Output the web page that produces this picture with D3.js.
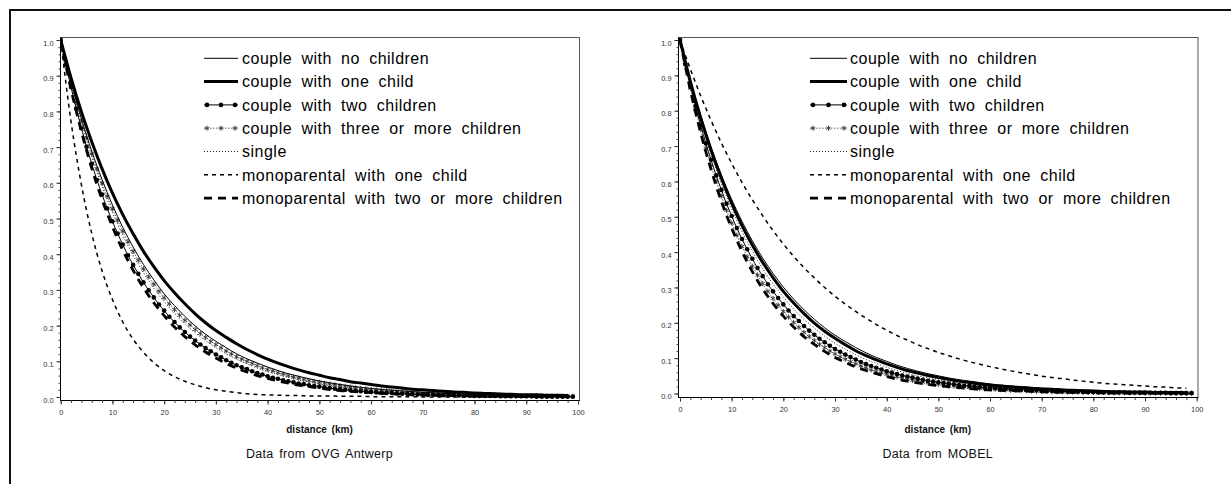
<!DOCTYPE html>
<html><head><meta charset="utf-8">
<script src="https://cdn.jsdelivr.net/npm/d3@7"></script>
<style>
html,body{margin:0;padding:0;background:#fff;}
svg{display:block;font-family:"Liberation Sans",Arial,Helvetica,sans-serif;}
</style></head><body>
<svg id="chart" width="1231" height="484"></svg>
<script>
// ---------- categories / ticks ----------
const distanceKm = [0,1,2,3,4,5,6,7,8,9,10,11,12,13,14,15,16,17,18,19,20,21,22,23,24,25,26,27,28,29,30,31,32,33,34,35,36,37,38,39,40,41,42,43,44,45,46,47,48,49,50,51,52,53,54,55,56,57,58,59,60,61,62,63,64,65,66,67,68,69,70,71,72,73,74,75,76,77,78,79,80,81,82,83,84,85,86,87,88,89,90,91,92,93,94,95,96,97,98,99];
const distanceKmEven = [0,2,4,6,8,10,12,14,16,18,20,22,24,26,28,30,32,34,36,38,40,42,44,46,48,50,52,54,56,58,60,62,64,66,68,70,72,74,76,78,80,82,84,86,88,90,92,94,96,98];
const seriesNames = ["couple with no children","couple with one child","couple with two children","couple with three or more children","single","monoparental with one child","monoparental with two or more children"];
const yTickValues = [0,0.1,0.2,0.3,0.4,0.5,0.6,0.7,0.8,0.9,1.0];
const yTickLabels = ["0.0","0.1","0.2","0.3","0.4","0.5","0.6","0.7","0.8","0.9","1.0"];
const xTickValues = [0,10,20,30,40,50,60,70,80,90,100];
const xTickLabels = ["0","10","20","30","40","50","60","70","80","90","100"];
const panelTitles = ["Data from OVG Antwerp","Data from MOBEL"];
const xAxisTitle = "distance (km)";

// ---------- OVG Antwerp ----------
const ovgNoChildren = [1,.883,.780,.689,.609,.538,.475,.420,.371,.328,.289,.256,.226,.199,.176,.156,.138,.121,.107,.095,.084,.074,.065,.058,.051,.045,.040,.035,.031,.027,.024,.021,.019,.017,.015,.013,.012,.010,.009,.008,.007,.006,.005,.005,.004,.004,.003,.003,.003,.002];
const ovgOneChild = [1,.894,.799,.715,.639,.571,.511,.457,.408,.365,.326,.292,.261,.233,.208,.186,.167,.149,.133,.119,.106,.095,.085,.076,.068,.061,.054,.049,.043,.039,.035,.031,.028,.025,.022,.020,.018,.016,.014,.013,.011,.010,.009,.008,.007,.006,.006,.005,.005,.004];
const ovgTwoChildren = [1,.931,.868,.808,.753,.701,.653,.608,.567,.528,
 .492,.458,.427,.397,.370,.345,.321,.299,.279,.259,
 .242,.225,.210,.195,.182,.169,.158,.147,.137,.128,
 .119,.111,.103,.096,.089,.083,.078,.072,.067,.063,
 .058,.054,.051,.047,.044,.041,.038,.036,.033,.031,
 .029,.027,.025,.023,.022,.020,.019,.017,.016,.015,
 .014,.013,.012,.011,.011,.010,.009,.009,.008,.007,
 .007,.006,.006,.006,.005,.005,.005,.004,.004,.004,
 .003,.003,.003,.003,.003,.002,.002,.002,.002,.002,
 .002,.002,.001,.001,.001,.001,.001,.001,.001,.001];
const ovgThreeChildren = [1,.938,.880,.825,.774,.726,.681,.639,.599,.562,
 .527,.495,.464,.435,.408,.383,.359,.337,.316,.296,
 .278,.261,.245,.229,.215,.202,.189,.178,.167,.156,
 .147,.138,.129,.121,.113,.106,.100,.094,.088,.082,
 .077,.073,.068,.064,.060,.056,.053,.049,.046,.043,
 .041,.038,.036,.034,.032,.030,.028,.026,.024,.023,
 .021,.020,.019,.018,.017,.016,.015,.014,.013,.012,
 .011,.011,.010,.009,.009,.008,.008,.007,.007,.006,
 .006,.006,.005,.005,.005,.004,.004,.004,.004,.003,
 .003,.003,.003,.003,.002,.002,.002,.002,.002,.002];
const ovgSingle = [1,.876,.768,.673,.590,.517,.453,.397,.348,.305,.267,.234,.205,.180,.158,.138,.121,.106,.093,.081,.071,.063,.055,.048,.042,.037,.032,.028,.025,.022,.019,.017,.015,.013,.011,.010,.009,.008,.007,.006,.005,.004,.004,.003,.003,.003,.002,.002,.002,.002];
const ovgMonoOne = [1,.771,.595,.458,.353,.273,.210,.162,.125,.096,.074,.057,.044,.034,.026,.020,.016,.012,.009,.007,.006,.005,.004,.004,.003,.003,.003,.002,.002,.002,.001,.001,.001,.001,.001,0,0,0,0,0,0,0,0,0,0,0,0,0,0,0];
const ovgMonoTwo = [1,.862,.744,.641,.553,.477,.411,.355,.306,.264,.228,.196,.169,.146,.126,.109,.094,.081,.070,.060,.052,.045,.039,.033,.029,.025,.021,.018,.016,.014,.012,.010,.009,.008,.007,.006,.005,.004,.004,.003,.003,.002,.002,.002,.001,.001,.001,.001,.001,.001];

// ---------- MOBEL ----------
const mobelNoChildren = [1,.887,.787,.698,.619,.549,.487,.432,.383,.340,.301,.267,.237,.210,.186,.165,.147,.130,.115,.102,.091,.080,.071,.063,.056,.050,.044,.039,.035,.031,.027,.024,.021,.019,.017,.015,.013,.012,.010,.009,.008,.007,.006,.006,.005,.005,.004,.004,.003,.003];
const mobelOneChild = [1,.883,.780,.689,.609,.538,.475,.420,.371,.328,.289,.256,.226,.199,.176,.156,.138,.121,.107,.095,.084,.074,.065,.058,.051,.045,.040,.035,.031,.027,.024,.021,.019,.017,.015,.013,.012,.010,.009,.008,.007,.006,.005,.005,.004,.004,.003,.003,.003,.002];
const mobelTwoChildren = [1,.933,.871,.813,.759,.708,.661,.617,.576,.537,
 .502,.468,.437,.408,.381,.355,.332,.309,.289,.270,
 .252,.235,.219,.205,.191,.178,.166,.155,.145,.135,
 .126,.118,.110,.103,.096,.089,.083,.078,.073,.068,
 .063,.059,.055,.051,.048,.045,.042,.039,.036,.034,
 .032,.030,.028,.026,.024,.022,.021,.020,.018,.017,
 .016,.015,.014,.013,.012,.011,.011,.010,.009,.009,
 .008,.007,.007,.006,.006,.006,.005,.005,.005,.004,
 .004,.004,.003,.003,.003,.003,.003,.002,.002,.002,
 .002,.002,.002,.002,.002,.001,.001,.001,.001,.001];
const mobelThreeChildren = [1,.930,.864,.803,.747,.694,.645,.600,.558,.518,
 .482,.448,.416,.387,.360,.335,.311,.289,.269,.250,
 .232,.216,.201,.187,.173,.161,.150,.139,.130,.120,
 .112,.104,.097,.090,.084,.078,.072,.067,.062,.058,
 .054,.050,.047,.043,.040,.037,.035,.032,.030,.028,
 .026,.024,.022,.021,.019,.018,.017,.016,.014,.013,
 .013,.012,.011,.010,.009,.009,.008,.008,.007,.006,
 .006,.006,.005,.005,.005,.004,.004,.004,.003,.003,
 .003,.003,.003,.002,.002,.002,.002,.002,.002,.002,
 .001,.001,.001,.001,.001,.001,.001,.001,.001,.001];
const mobelSingle = [1,.878,.771,.677,.595,.522,.458,.403,.353,.310,.273,.239,.210,.185,.162,.142,.125,.110,.096,.085,.074,.065,.057,.050,.044,.039,.034,.030,.026,.023,.020,.018,.016,.014,.012,.011,.009,.008,.007,.006,.006,.005,.004,.004,.003,.003,.003,.002,.002,.002];
const mobelMonoOne = [1,.918,.842,.773,.709,.651,.597,.548,.503,.461,.423,.388,.356,.327,.300,.275,.253,.232,.213,.195,.179,.164,.151,.138,.127,.116,.107,.098,.090,.083,.076,.070,.064,.059,.054,.049,.045,.042,.038,.035,.032,.029,.027,.025,.023,.021,.019,.018,.016,.015];
const mobelMonoTwo = [1,.859,.738,.634,.544,.468,.402,.345,.296,.255,.219,.188,.161,.139,.119,.102,.088,.075,.065,.056,.048,.041,.035,.030,.026,.022,.019,.017,.014,.012,.010,.009,.008,.007,.006,.005,.004,.004,.003,.003,.002,.002,.002,.001,.001,.001,.001,.001,.001,.001];

// ---------- styling ----------
const seriesX = [distanceKmEven, distanceKmEven, distanceKm, distanceKm, distanceKmEven, distanceKmEven, distanceKmEven];
const seriesStyle = [
  {stroke:"#000", width:1, dash:null, marker:null},
  {stroke:"#000", width:3, dash:null, marker:null},
  {stroke:"#000", width:1, dash:null, marker:"dot"},
  {stroke:"#666", width:1, dash:"1.5,1.5", marker:"star"},
  {stroke:"#222", width:1, dash:"1,2", marker:null},
  {stroke:"#000", width:1.5, dash:"4,4", marker:null},
  {stroke:"#000", width:2.8, dash:"8,6", marker:null}
];

const panels = [
  {title: panelTitles[0],
   values:[ovgNoChildren, ovgOneChild, ovgTwoChildren, ovgThreeChildren, ovgSingle, ovgMonoOne, ovgMonoTwo],
   fx0:60, fx1:579, fy0:37, fy1:400, xr:[60.7,578], yr:[397,40],
   legLine:[204,238], legText:242},
  {title: panelTitles[1],
   values:[mobelNoChildren, mobelOneChild, mobelTwoChildren, mobelThreeChildren, mobelSingle, mobelMonoOne, mobelMonoTwo],
   fx0:678, fx1:1197.5, fy0:37, fy1:397, xr:[680,1196.7], yr:[393.5,40],
   legLine:[810,847], legText:850}
];

const svg = d3.select("#chart");
svg.append("rect").attr("width",1231).attr("height",484).attr("fill","#fff");
// outer frame
svg.append("rect").attr("x",10).attr("y",10).attr("width",1240).attr("height",490)
  .attr("fill","none").attr("stroke","#111").attr("stroke-width",2);

const minorY = d3.range(0, 1.0001, 0.02);
const minorX = d3.range(0, 100.001, 2);

panels.forEach((p, pi) => {
  const g = svg.append("g");
  const x = d3.scaleLinear().domain([0,100]).range(p.xr);
  const y = d3.scaleLinear().domain([0,1]).range(p.yr);

  // frame
  g.append("rect").attr("x",p.fx0+0.5).attr("y",p.fy0+0.5)
    .attr("width",p.fx1-p.fx0).attr("height",p.fy1-p.fy0)
    .attr("fill","none").attr("stroke","#555").attr("stroke-width",1);
  g.append("line").attr("x1",p.fx0+0.5).attr("x2",p.fx0+0.5).attr("y1",p.fy0).attr("y2",p.fy1+0.5)
    .attr("stroke","#000");
  g.append("line").attr("x1",p.fx0).attr("x2",p.fx1+1).attr("y1",p.fy1+0.5).attr("y2",p.fy1+0.5)
    .attr("stroke","#000");

  // y axis
  const yAx = g.append("g").attr("transform",`translate(${p.fx0+0.5},0)`)
    .call(d3.axisLeft(y).tickValues(yTickValues).tickSize(4).tickPadding(3)
      .tickFormat((d,i)=>yTickLabels[i]));
  yAx.select(".domain").remove();
  yAx.selectAll("text").attr("font-size",7.4).attr("fill","#333").attr("dy","0.68em")
    .attr("font-family","Liberation Sans, Arial, sans-serif");
  yAx.selectAll("line").attr("stroke","#222");
  const yMin = g.append("g").attr("transform",`translate(${p.fx0+0.5},0)`)
    .call(d3.axisLeft(y).tickValues(minorY).tickSize(2).tickFormat(""));
  yMin.select(".domain").remove();
  yMin.selectAll("line").attr("stroke","#444");

  // x axis
  const xAx = g.append("g").attr("transform",`translate(0,${p.fy1+0.5})`)
    .call(d3.axisBottom(x).tickValues(xTickValues).tickSize(4).tickPadding(5)
      .tickFormat((d,i)=>xTickLabels[i]));
  xAx.select(".domain").remove();
  xAx.selectAll("text").attr("font-size",7.4).attr("fill","#333")
    .attr("font-family","Liberation Sans, Arial, sans-serif");
  xAx.selectAll("line").attr("stroke","#222");
  const xMin = g.append("g").attr("transform",`translate(0,${p.fy1+0.5})`)
    .call(d3.axisBottom(x).tickValues(minorX).tickSize(2.5).tickFormat(""));
  xMin.select(".domain").remove();
  xMin.selectAll("line").attr("stroke","#444");

  // axis title and panel title
  const cx = (p.fx0 + p.fx1) / 2;
  g.append("text").attr("x",cx).attr("y",433).attr("text-anchor","middle")
    .attr("font-size",10).attr("font-weight","bold").attr("word-spacing","2px")
    .attr("fill","#111").text(xAxisTitle);
  g.append("text").attr("x",cx).attr("y",457.5).attr("text-anchor","middle")
    .attr("font-size",12.5).attr("letter-spacing","0.3px").attr("word-spacing","2px")
    .attr("fill","#111").text(p.title);

  // clip
  const clipId = "clip"+pi;
  svg.append("clipPath").attr("id",clipId).append("rect")
    .attr("x",p.fx0).attr("y",p.fy0-3).attr("width",p.fx1-p.fx0+3).attr("height",p.fy1-p.fy0+3);
  const plot = g.append("g").attr("clip-path",`url(#${clipId})`);

  const line = d3.line().x(d=>x(d[0])).y(d=>y(d[1])).curve(d3.curveMonotoneX);
  const star = d3.symbol().type(d3.symbolAsterisk).size(18);

  const order = [5,4,3,0,1,6,2];
  order.forEach(si => {
    const st = seriesStyle[si];
    const pts = seriesX[si].map((d,i)=>[d, p.values[si][i]]);
    plot.append("path").datum(pts).attr("d",line)
      .attr("fill","none").attr("stroke",st.stroke).attr("stroke-width",st.width)
      .attr("stroke-dasharray",st.dash).attr("stroke-linejoin","round");
    if (st.marker === "dot") {
      plot.append("g").selectAll("circle").data(pts).join("circle")
        .attr("cx",d=>x(d[0])).attr("cy",d=>y(d[1])).attr("r",2.3).attr("fill","#000");
    } else if (st.marker === "star") {
      plot.append("g").selectAll("path").data(pts).join("path")
        .attr("d",star).attr("transform",d=>`translate(${x(d[0])},${y(d[1])})`)
        .attr("fill","none").attr("stroke","#333").attr("stroke-width",0.9);
    }
  });

  // legend
  const leg = g.append("g");
  seriesNames.forEach((name, si) => {
    const st = seriesStyle[si];
    const ry = 58.3 + si*23.3;
    const [l0,l1] = p.legLine;
    leg.append("line").attr("x1",l0).attr("x2",l1).attr("y1",ry).attr("y2",ry)
      .attr("stroke",st.stroke).attr("stroke-width",st.width).attr("stroke-dasharray",st.dash);
    const mx = [l0+3, (l0+l1)/2, l1-3];
    if (st.marker === "dot") {
      mx.forEach(m => leg.append("circle").attr("cx",m).attr("cy",ry).attr("r",2.3).attr("fill","#000"));
    } else if (st.marker === "star") {
      mx.forEach(m => leg.append("path").attr("d",star).attr("transform",`translate(${m},${ry})`)
        .attr("fill","none").attr("stroke","#333").attr("stroke-width",0.9));
    }
    leg.append("text").attr("x",p.legText).attr("y",ry).attr("dy","0.36em")
      .attr("font-size",16).attr("letter-spacing","0.5px").attr("word-spacing","4.3px")
      .attr("fill","#000").text(name);
  });
});
</script>
</body></html>
